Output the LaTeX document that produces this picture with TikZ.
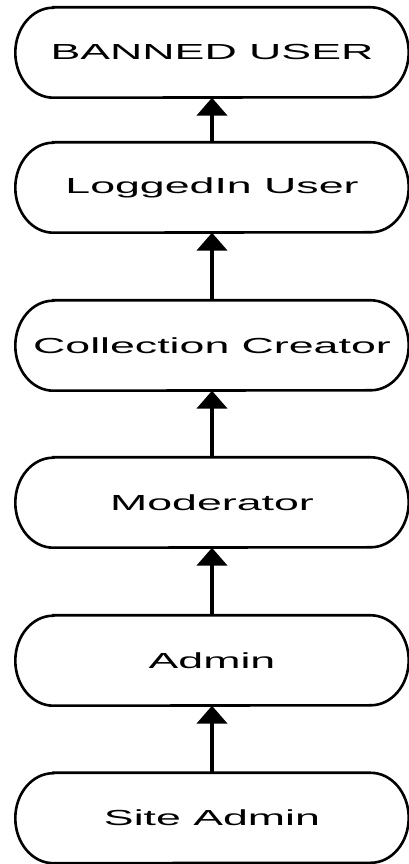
\documentclass[tikz,border=0pt]{standalone}
\usepackage{fontspec}
\setmainfont[FakeStretch=2.05]{Liberation Sans}
\usetikzlibrary{arrows.meta}
\newcommand{\rolenode}[3] {\node at (#1) (#2) [minimum width=393pt, minimum height=90pt, inner sep=0pt, font=\fontsize{21.8}{24}\selectfont] {#3};
\draw [line width=2.6pt] ([xshift=38pt]#2.north west) -- ([xshift=-38pt]#2.north east) arc [start angle=90, end angle=-90, x radius=38pt, y radius=45pt] -- ([xshift=38pt]#2.south west) arc [start angle=270, end angle=90, x radius=38pt, y radius=45pt] -- cycle;}
\newcommand{\roleedge}[2] {\draw [-{Triangle[width=30pt, length=18pt]}, line width=4.5pt] (#1) -- (#2);}

\begin{document}
\begin{tikzpicture}

\useasboundingbox (0,0) rectangle (409pt,864pt);

\rolenode {212pt,811.5pt}{banned}{BANNED USER};
\rolenode {212pt,676.5pt}{loggedin}{LoggedIn User};
\rolenode {212pt,518.5pt}{creator}{Collection Creator};
\rolenode {212pt,361.5pt}{moderator}{Moderator};
\rolenode {212pt,203.5pt}{admin}{Admin};
\rolenode {212pt,46pt}{siteadmin}{Site Admin};

\roleedge{loggedin}{banned};
\roleedge{creator}{loggedin};
\roleedge{moderator}{creator};
\roleedge{admin}{moderator};
\roleedge{siteadmin}{admin};

\end{tikzpicture}
\end{document}
